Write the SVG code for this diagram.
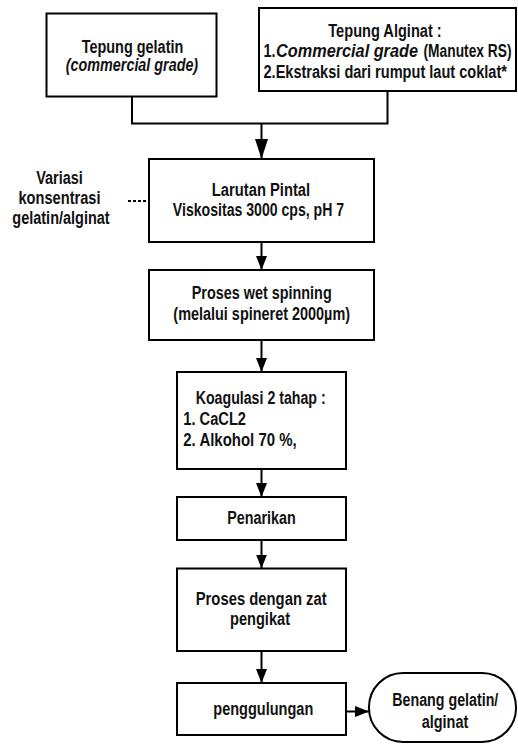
<svg xmlns="http://www.w3.org/2000/svg" width="518" height="744" viewBox="0 0 518 744">
<defs>
<style>
.box{fill:#fff;stroke:#000;stroke-width:2}
.t{font-family:'Liberation Sans Narrow','Arial Narrow','Liberation Sans',Arial,sans-serif;font-weight:bold;font-size:18px;fill:#111}
.c{text-anchor:middle}
.it{font-style:italic}
.ln{fill:none;stroke:#000;stroke-width:2}
.dot{fill:none;stroke:#000;stroke-width:2;stroke-dasharray:3,2}
</style>
<marker id="arr" viewBox="0 0 14 11" markerWidth="14" markerHeight="11" refX="14" refY="5.5" orient="auto" markerUnits="userSpaceOnUse"><path d="M0,0 L14,5.5 L0,11 z" fill="#000"/></marker>
<marker id="arrL" viewBox="0 0 20 13" markerWidth="20" markerHeight="13" refX="20" refY="6.5" orient="auto" markerUnits="userSpaceOnUse"><path d="M0,0 L20,6.5 L0,13 z" fill="#000"/></marker>
</defs>
<rect width="518" height="744" fill="#fff"/>
<g id="connectors">
<path class="ln" d="M132,96.5 V123.5 H387.5 V91"/>
<line class="ln" x1="261.5" y1="123.5" x2="261.5" y2="159" marker-end="url(#arrL)"/>
<line class="dot" x1="128" y1="201" x2="149" y2="201"/>
<line class="ln" x1="261.5" y1="242" x2="261.5" y2="270" marker-end="url(#arr)"/>
<line class="ln" x1="261.5" y1="340" x2="261.5" y2="372" marker-end="url(#arr)"/>
<line class="ln" x1="261.5" y1="469" x2="261.5" y2="497" marker-end="url(#arr)"/>
<line class="ln" x1="261.5" y1="540" x2="261.5" y2="568.5" marker-end="url(#arr)"/>
<line class="ln" x1="261.5" y1="651" x2="261.5" y2="683" marker-end="url(#arr)"/>
<line class="ln" x1="346" y1="711.5" x2="369" y2="711.5" marker-end="url(#arr)"/>
</g>
<g id="n1">
<rect class="box" x="46.5" y="13.5" width="170" height="83"/>
<text class="t c" x="132.5" y="52.5" textLength="101.6" lengthAdjust="spacingAndGlyphs">Tepung gelatin</text>
<text class="t c it" x="132" y="71" textLength="132.3" lengthAdjust="spacingAndGlyphs">(commercial grade)</text>
</g>
<g id="n2">
<rect class="box" x="259" y="8" width="257" height="83"/>
<text class="t c" x="385" y="37" textLength="113.4" lengthAdjust="spacingAndGlyphs">Tepung Alginat  :</text>
<text class="t" x="263.5" y="57" textLength="12" lengthAdjust="spacingAndGlyphs">1.</text>
<text class="t it" x="276" y="57" textLength="142" lengthAdjust="spacingAndGlyphs">Commercial grade</text>
<text class="t" x="423.5" y="57" textLength="88" lengthAdjust="spacingAndGlyphs">(Manutex RS)</text>
<text class="t" x="263.5" y="77.5" textLength="243.4" lengthAdjust="spacingAndGlyphs">2.Ekstraksi dari rumput laut coklat*</text>
</g>
<g id="n10">
<text class="t c" x="59.5" y="184" textLength="46.7" lengthAdjust="spacingAndGlyphs">Variasi</text>
<text class="t c" x="59.5" y="204" textLength="82" lengthAdjust="spacingAndGlyphs">konsentrasi</text>
<text class="t c" x="61" y="223.5" textLength="97.3" lengthAdjust="spacingAndGlyphs">gelatin/alginat</text>
</g>
<g id="n3">
<rect class="box" x="149" y="159" width="225" height="83"/>
<text class="t c" x="261" y="196" textLength="98.3" lengthAdjust="spacingAndGlyphs">Larutan Pintal</text>
<text class="t c" x="258.5" y="215.5" textLength="171.3" lengthAdjust="spacingAndGlyphs">Viskositas 3000 cps, pH 7</text>
</g>
<g id="n4">
<rect class="box" x="149" y="270" width="225" height="70"/>
<text class="t c" x="261.7" y="299" textLength="140" lengthAdjust="spacingAndGlyphs">Proses wet spinning</text>
<text class="t c" x="261.7" y="320" textLength="176.7" lengthAdjust="spacingAndGlyphs">(melalui spineret 2000µm)</text>
</g>
<g id="n5">
<rect class="box" x="177" y="372" width="169" height="97"/>
<text class="t" x="195.7" y="404" textLength="130" lengthAdjust="spacingAndGlyphs">Koagulasi 2 tahap :</text>
<text class="t" x="183.3" y="425" textLength="62.7" lengthAdjust="spacingAndGlyphs">1. CaCL2</text>
<text class="t" x="183.3" y="446" textLength="113.4" lengthAdjust="spacingAndGlyphs">2. Alkohol 70 %,</text>
</g>
<g id="n6">
<rect class="box" x="177" y="497" width="169" height="43"/>
<text class="t c" x="261.5" y="524" textLength="68.4" lengthAdjust="spacingAndGlyphs">Penarikan</text>
</g>
<g id="n7">
<rect class="box" x="177" y="568.5" width="169" height="82.5"/>
<text class="t c" x="261.2" y="604.5" textLength="131" lengthAdjust="spacingAndGlyphs">Proses dengan  zat</text>
<text class="t c" x="260" y="625" textLength="60" lengthAdjust="spacingAndGlyphs">pengikat</text>
</g>
<g id="n8">
<rect class="box" x="177" y="683" width="169" height="52"/>
<text class="t c" x="263.3" y="714.5" textLength="100" lengthAdjust="spacingAndGlyphs">penggulungan</text>
</g>
<g id="n9">
<rect class="box" x="369" y="673" width="147" height="69" rx="34" ry="34"/>
<text class="t c" x="445.3" y="706" textLength="106" lengthAdjust="spacingAndGlyphs">Benang gelatin/</text>
<text class="t c" x="445" y="727.5" textLength="46.6" lengthAdjust="spacingAndGlyphs">alginat</text>
</g>
</svg>
